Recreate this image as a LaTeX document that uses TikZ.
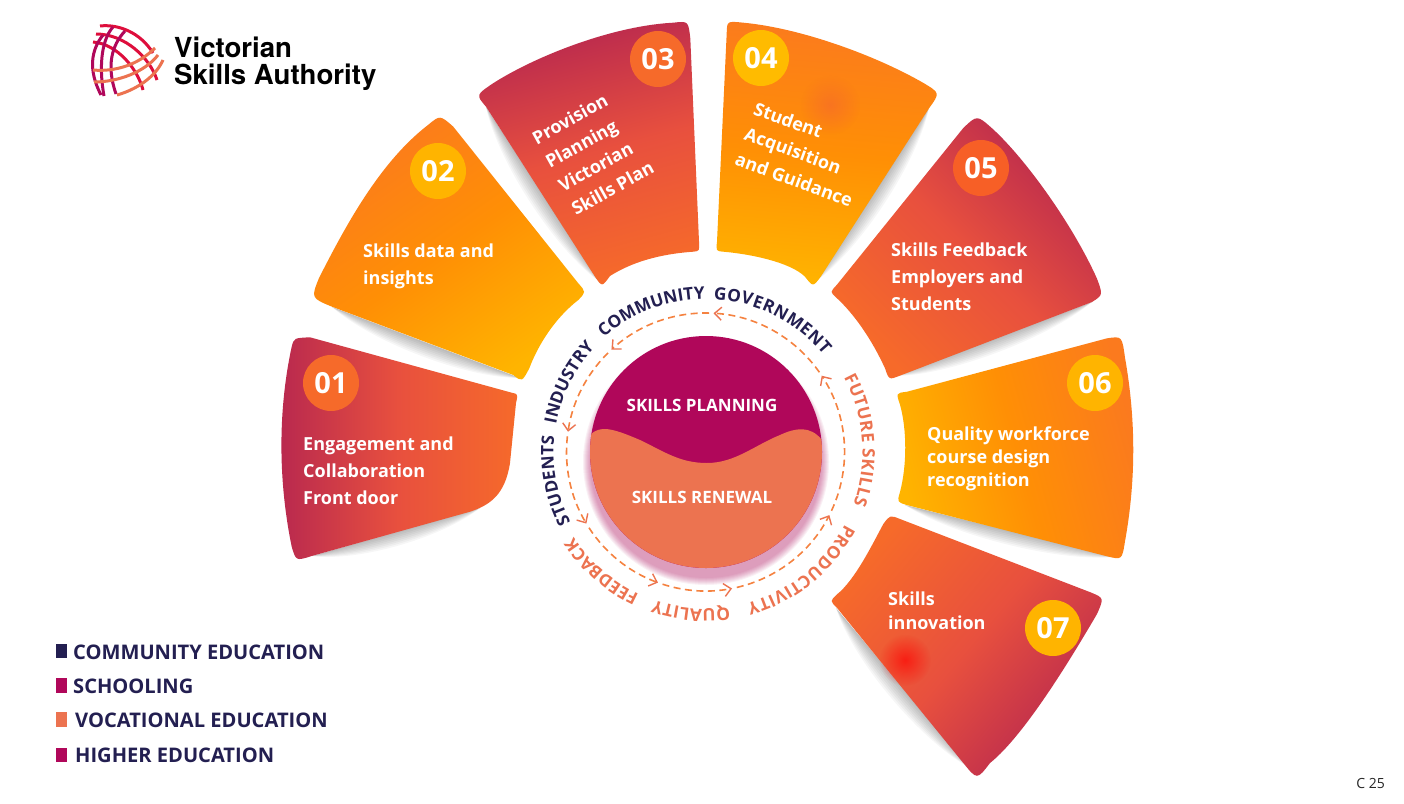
\documentclass[tikz,border=0pt]{standalone}
\usepackage{fontspec}
\setmainfont{Open Sans}
\newfontfamily\logofont{TeX Gyre Heros}
\usetikzlibrary{arrows.meta,calc,decorations.text,fadings}
\definecolor{navy}{HTML}{231F51}
\definecolor{plum}{HTML}{B0075A}
\definecolor{coral}{HTML}{EC7350}
\definecolor{ringc}{HTML}{F58240}
\definecolor{crim}{HTML}{B8284F}
\definecolor{hot}{HTML}{F66A2A}
\definecolor{midhot}{HTML}{E8503E}
\definecolor{amber}{HTML}{FFB400}
\definecolor{flame}{HTML}{FB7A1E}
\definecolor{midamb}{HTML}{FF8F05}
\definecolor{logored}{HTML}{DE0E3C}
\tikzfading[name=softdot,inner color=transparent!35,outer color=transparent!100]
\tikzset{
 petaltext/.style={text=white,font=\bfseries\fontsize{18}{27}\selectfont,align=left,anchor=west,inner sep=0pt},
 numdisc/.style={circle,minimum size=56pt,inner sep=0pt,text=white,font=\bfseries\fontsize{29}{30}\selectfont},
 legendbox/.style={anchor=north west,minimum width=10.8pt,minimum height=14.7pt,inner sep=0pt},
 legendtext/.style={text=navy,anchor=west,inner sep=0pt,font=\bfseries\fontsize{20.1}{22}\selectfont},
 ringarc/.style={draw=ringc,line width=1.6pt,dash pattern=on 7pt off 4.5pt,-{Straight Barb[length=7pt,width=13pt,color=coral,line width=1.4pt]}},
 logor/.style={draw=logored,line width=3pt},
 logop/.style={draw=plum,line width=3pt},
 logoo/.style={draw=coral,line width=3pt},
 logotext/.style={anchor=base west,inner sep=0pt,font=\logofont\bfseries\fontsize{27.6}{28}\selectfont},
}
\def\pA{(291.7,346.7) .. controls (294,338) .. (310,337.3) -- (511.7,392.7) .. controls (518,394) .. (516,403) -- (510,463) .. controls (505,495) and (490,505) .. (470,511.7) -- (311.7,556) .. controls (296,561) .. (291.7,546.7) .. controls (278,480) and (278,410) .. cycle}
\def\pB{(428,125) .. controls (440,115) .. (453.3,126.7) -- (578.3,283.3) .. controls (586,292) .. (578.3,300) .. controls (555,318) and (538,345) .. (529.3,368.3) .. controls (522,382) .. (513.3,375) -- (332,306.7) .. controls (311,298) .. (319,278) .. controls (346,225) and (380,162) .. cycle}
\def\pC{(673.3,22.7) .. controls (688.3,21) .. (690.3,38.3) -- (699,241.7) .. controls (699.5,251) .. (693.3,251.7) .. controls (660,254) and (632,262) .. (610,276) .. controls (602,287) .. (595,276.7) -- (486,106.7) .. controls (476,95) .. (492,84) .. controls (532,58) and (610,26) .. cycle}
\def\pD{(726.7,33.3) .. controls (727,21) .. (743.3,22.7) .. controls (800,28) and (875,55) .. (924,83.3) .. controls (940,93) .. (929,108.3) -- (820.7,276.7) .. controls (813,287) .. (805,276.7) .. controls (790,262) and (750,254) .. (723.3,251.7) .. controls (716,251) .. (717,241.7) -- cycle}
\def\pE{(963.3,128) .. controls (977,115) .. (991.7,128) .. controls (1025,158) and (1073,225) .. (1097,278.7) .. controls (1103,295) .. (1092,302) -- (900,375.6) .. controls (889,380) .. (885,368.3) .. controls (872,340) and (855,315) .. (836.7,298) .. controls (830,292) .. (836.7,285) -- cycle}
\def\pF{(1106.7,338.4) .. controls (1122,336) .. (1125,357.7) .. controls (1136,420) and (1136,480) .. (1125,541.3) .. controls (1122,560) .. (1106.7,556.2) -- (906.7,505) .. controls (897,502) .. (900,492) .. controls (907,465) and (907,430) .. (900,404.6) .. controls (896,393) .. (906.7,391.8) -- cycle}
\def\pG{(900,519) -- (1091,592.5) .. controls (1104,598) .. (1097,614) .. controls (1073,655) and (1025,735) .. (990,763) .. controls (977,780) .. (963.3,763) -- (836.7,607.5) .. controls (830,601) .. (836.7,594.6) .. controls (855,580) and (872,545) .. (883.3,524) .. controls (890,515) .. cycle}
% soft curled-page shadow along an edge: ends, bulge
\newcommand{\crescent}[3]{\foreach \k in {.15,.3,.45,.6,.75,.9,1.05,1.2}{\fill[black,opacity=.035] (#1) .. controls ($(#1)!.25!(#2)+\k*(#3)$) and ($(#1)!.75!(#2)+\k*(#3)$) .. (#2) -- cycle;}}
\newcommand{\ringword}[5]{\path[decorate,decoration={text along path,text={|\bfseries\fontsize{17.2}{18}\selectfont\color{#5}|#4},text align=fit to path}] ($(c)+(-#2:#1)$) arc[start angle=-#2,end angle=-#3,radius=#1];}
\newcommand{\blot}[4]{\fill[#4,path fading=softdot] (#1,#2) circle[radius=#3];}
\begin{document}
\begin{tikzpicture}[x=1pt,y=-1pt]
\useasboundingbox (0,0) rectangle (1404,803);
\fill[white] (0,0) rectangle (1404,803);
\coordinate (c) at (705.5,452);
% shadows
\crescent{312,556}{480,508}{3,15}
\crescent{332,307}{520,378}{-5,15}
\crescent{486,107}{600,282}{-14,9}
\crescent{929,108}{815,282}{14,9}
\crescent{1092,302}{895,376}{4,15}
\crescent{1115,557}{905,505}{-3,15}
\crescent{836,608}{970,768}{-14,10}
% petals
\shade[top color=crim,bottom color=hot,middle color=midhot,shading angle=90] \pA;
\shade[top color=flame,bottom color=amber,middle color=midamb,shading angle=35] \pB;
\shade[top color=crim,bottom color=hot,middle color=midhot,shading angle=15] \pC;
\shade[top color=flame,bottom color=amber,middle color=midamb,shading angle=-5] \pD;
\shade[top color=crim,bottom color=hot,middle color=midhot,shading angle=-45] \pE;
\shade[top color=flame,bottom color=amber,middle color=midamb,shading angle=-75] \pF;
\shade[top color=hot,bottom color=crim,middle color=midhot,shading angle=50] \pG;
% blotches
\blot{905}{660}{26}{red}
\blot{830}{105}{30}{hot}
% logo
\draw[logor] (100,26) .. controls (118,24) and (140,32) .. (153,53);
\draw[logor] (96,34) .. controls (125,34) and (150,58) .. (157,80);
\draw[logor] (93,42) .. controls (118,44) and (138,70) .. (143,90);
\draw[logop] (113,27) .. controls (103,38) and (98,62) .. (104,96);
\draw[logop] (125,31) .. controls (112,45) and (106,65) .. (116,94);
\draw[logop] (103,35) .. controls (91,50) and (88,70) .. (101,95);
\draw[logoo] (93,70) .. controls (115,72) and (138,65) .. (155,48);
\draw[logoo] (94,82) .. controls (118,82) and (145,72) .. (158,55);
\draw[logoo] (117,95) .. controls (135,90) and (155,78) .. (163,60);
\node[logotext] (logoa) at (174,57.5) {Victorian};
\node[logotext] (logob) at (174,84) {Skills Authority};
% ring text
\ringword{152}{207.5}{174}{STUDENTS}{navy}
\ringword{152}{169.5}{137.6}{INDUSTRY}{navy}
\ringword{153}{131.6}{90.7}{COMMUNITY}{navy}
\ringword{153}{87}{39.5}{GOVERNMENT}{navy}
\ringword{157}{28.3}{-19.7}{FUTURE SKILLS}{coral}
\ringword{157}{-27.3}{-74.8}{PRODUCTIVITY}{coral}
\ringword{157}{-81.3}{-109.1}{QUALITY}{coral}
\ringword{157}{-115}{-147.1}{FEEDBACK}{coral}
% dashed ring
\foreach \a/\b in {35/86.7,88.5/132.6,134.5/171.6,173.5/211,213/250,252/281,283/333,335/393.3}{
  \draw[ringarc] ($(c)+(-\a:139)$) arc[start angle=-\a,end angle=-\b,radius=139];
}
% central disc
\foreach \r in {123,122,121,120,119,118,117,116}{
  \fill[plum,opacity=.06] (706,462) circle[radius=\r];
}
\begin{scope}
\clip (706,452) circle[radius=116];
\fill[plum] (580,330) rectangle (830,580);
\fill[coral] (580,450) -- (590,435) .. controls (600,425) and (612,428) .. (640,440) .. controls (665,452) and (680,463) .. (707,463) .. controls (735,463) and (755,445) .. (780,435) .. controls (795,428) and (810,425) .. (822,440) -- (830,580) -- (580,580) -- cycle;
\end{scope}
\node[text=white,font=\bfseries\fontsize{17}{18}\selectfont,inner sep=0pt] (plan) at (702,405) {SKILLS PLANNING};
\node[text=white,font=\bfseries\fontsize{17}{18}\selectfont,inner sep=0pt] (renew) at (702,497) {SKILLS RENEWAL};
% number discs
\node[numdisc,fill=hot] (n1) at (331,383) {01};
\node[numdisc,fill=amber] (n2) at (438,171) {02};
\node[numdisc,fill=hot] (n3) at (658,59) {03};
\node[numdisc,fill=amber!90!yellow] (n4) at (761,58) {04};
\node[numdisc,fill=hot!90!red] (n5) at (981,168) {05};
\node[numdisc,fill=amber] (n6) at (1095,383) {06};
\node[numdisc,fill=amber] (n7) at (1053,628) {07};
% petal texts
\node[petaltext] (t1) at (303,471) {Engagement and\\Collaboration\\Front door};
\node[petaltext] (t2) at (363,266) {Skills data and\\insights};
\node[petaltext,rotate=29,anchor=north west] (t3) at (530,133) {Provision\\Planning\\Victorian\\Skills Plan};
\node[petaltext,rotate=-20,anchor=north west] (t4) at (757,101) {Student\\Acquisition\\and Guidance};
\node[petaltext] (t5) at (891,277) {Skills Feedback\\Employers and\\Students};
\node[petaltext,font=\bfseries\fontsize{18}{23}\selectfont] (t6) at (927,459) {Quality workforce\\course design\\recognition};
\node[petaltext,font=\bfseries\fontsize{18}{24}\selectfont] (t7) at (888,611) {Skills\\innovation};
% legend
\node[legendbox,fill=navy] (l1) at (56,643.3) {};
\node[legendbox,fill=plum] (l2) at (56,678) {};
\node[legendbox,fill=coral] (l3) at (56,712) {};
\node[legendbox,fill=plum] (l4) at (56,747.3) {};
\node[legendtext] (lt1) at (73,652.4) {COMMUNITY EDUCATION};
\node[legendtext] (lt2) at (73,686.4) {SCHOOLING};
\node[legendtext] (lt3) at (75,720.4) {VOCATIONAL EDUCATION};
\node[legendtext] (lt4) at (75,755.4) {HIGHER EDUCATION};
\node[anchor=east,inner sep=0pt,font=\fontsize{14}{16}\selectfont,text=black!85] (pg) at (1385,783) {C 25};
\end{tikzpicture}
\end{document}
